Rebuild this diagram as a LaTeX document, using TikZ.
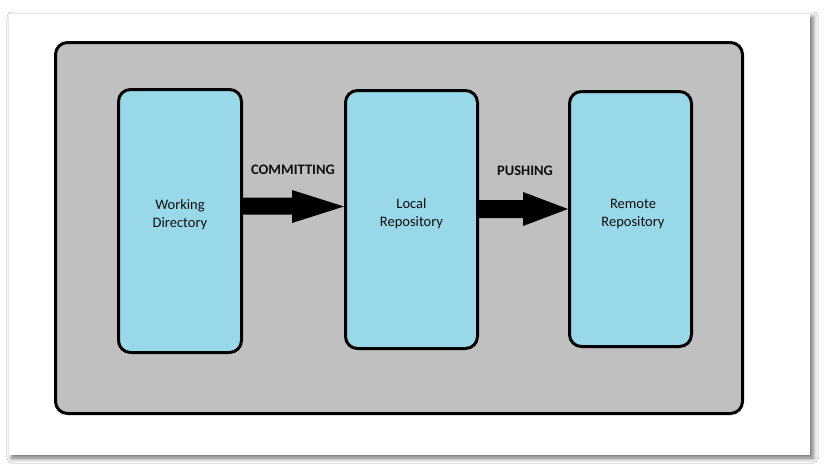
\documentclass[tikz,border=0pt]{standalone}
\usepackage{fontspec}
\setmainfont{Carlito}
\usetikzlibrary{shadows.blur}
\definecolor{boxblue}{RGB}{152,216,232}
\definecolor{panelgray}{RGB}{192,192,192}
\definecolor{inktext}{RGB}{15,15,15}
\begin{document}
\begin{tikzpicture}[x=1pt,y=-1pt,
  stage/.style={draw=black, line width=3pt, fill=boxblue, rounded corners=12pt, inner sep=0pt},
  stagetext/.style={align=center, text=inktext, font=\fontsize{14.5}{18}\selectfont, inner sep=0pt},
  actiontext/.style={text=inktext, font=\fontsize{14.5}{18}\selectfont\bfseries, inner sep=0pt},
  bigarrow/.style={fill=black}
]
\useasboundingbox (0,0) rectangle (828,469);
\fill[white] (0,0) rectangle (828,469);
% white frame with shadow
\path[fill=white, blur shadow={shadow xshift=3pt, shadow yshift=-3pt, shadow blur radius=5pt, shadow opacity=60}] (9,14) rectangle (810,455);
% gray panel
\node[draw=black, line width=3pt, fill=panelgray, rounded corners=12pt, inner sep=0pt,
      minimum width=687pt, minimum height=371pt] (panel) at (399,228) {};
% stages
\node[stage, minimum width=123pt, minimum height=263pt] (wd) at (180,221) {};
\node[stage, minimum width=132pt, minimum height=258pt] (local) at (411.5,219.5) {};
\node[stage, minimum width=122pt, minimum height=255pt] (remote) at (630.5,219) {};
\node[stagetext] (wdt) at (180,215) {Working\\Directory};
\node[stagetext] (localt) at (411.5,214) {Local\\Repository};
\node[stagetext] (remotet) at (633,214) {Remote\\Repository};
% arrows
\fill[bigarrow] (wd.east |- 0,197.5) -- (292,197.5) -- (292,190) -- (local.west |- 0,206.5)
   -- (292,223) -- (292,214.5) -- (wd.east |- 0,214.5) -- cycle;
\fill[bigarrow] (local.east |- 0,200) -- (523,200) -- (523,192) -- (remote.west |- 0,209)
   -- (523,226) -- (523,218) -- (local.east |- 0,218) -- cycle;
\node[actiontext] (commit) at (293,170) {COMMITTING};
\node[actiontext] (push) at (525,171) {PUSHING};
\end{tikzpicture}
\end{document}
